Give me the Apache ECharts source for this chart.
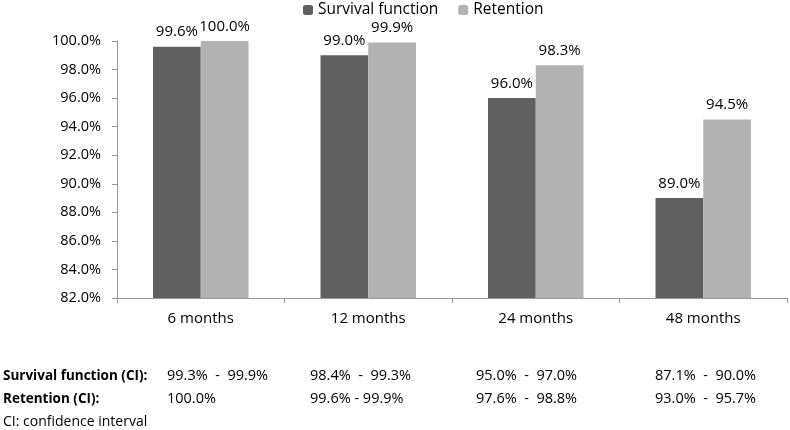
<!DOCTYPE html>
<html><head><meta charset="utf-8">
<script src="https://cdn.jsdelivr.net/npm/echarts@6/dist/echarts.min.js"></script>
<style>html,body{margin:0;padding:0;background:#fff}#c{width:790px;height:430px}</style>
</head><body><div id="c"></div>
<script>
var categories = ['6 months', '12 months', '24 months', '48 months'];
var survival = [99.6, 99.0, 96.0, 89.0];
var retention = [100.0, 99.9, 98.3, 94.5];
var survivalCI = ['99.3%  -  99.9%', '98.4%  -  99.3%', '95.0%  -  97.0%', '87.1%  -  90.0%'];
var retentionCI = ['100.0%', '99.6% - 99.9%', '97.6%  -  98.8%', '93.0%  -  95.7%'];
var rowLabels = ['Survival function (CI):', 'Retention (CI):'];
var footnote = 'CI: confidence interval';

var FONT = '"Open Sans", sans-serif';
var ciX = [167, 310, 476, 655];
var graphics = [];
graphics.push({type:'text', left:3, top:369, style:{text:rowLabels[0], font:'bold 13.5px ' + FONT, fill:'#000'}});
graphics.push({type:'text', left:3, top:392, style:{text:rowLabels[1], font:'bold 13.5px ' + FONT, fill:'#000'}});
graphics.push({type:'text', left:3, top:415, style:{text:footnote, font:'14px ' + FONT, fill:'#000'}});
for (var i = 0; i < categories.length; i++) {
  graphics.push({type:'text', left:ciX[i], top:368, style:{text:survivalCI[i], font:'14.5px ' + FONT, fill:'#000'}});
  graphics.push({type:'text', left:ciX[i], top:391, style:{text:retentionCI[i], font:'14.5px ' + FONT, fill:'#000'}});
}

var chart = echarts.init(document.getElementById('c'));
chart.setOption({
  animation: false,
  textStyle: {fontFamily: FONT},
  legend: {
    top: -3, left: 298, itemWidth: 10, itemHeight: 10, itemGap: 20,
    textStyle: {fontSize: 15.5, color: '#000', fontFamily: FONT},
    data: ['Survival function', 'Retention']
  },
  grid: {left: 117, right: 3, top: 41, bottom: 132, containLabel: false},
  xAxis: {
    type: 'category', data: categories,
    axisLine: {lineStyle: {color: '#999'}},
    axisTick: {show: true, alignWithLabel: false, length: 5, lineStyle: {color: '#999'}},
    axisLabel: {fontSize: 15, color: '#000', margin: 13, fontFamily: FONT}
  },
  yAxis: {
    type: 'value', min: 82, max: 100, interval: 2,
    splitLine: {show: false},
    axisLine: {show: true, lineStyle: {color: '#999'}},
    axisTick: {show: true, length: 5, lineStyle: {color: '#999'}},
    axisLabel: {fontSize: 14.5, color: '#000', margin: 16, fontFamily: FONT,
      formatter: function (v) { return v.toFixed(1) + '%'; }}
  },
  series: [
    {name: 'Survival function', type: 'bar', data: survival, barGap: '0%', barCategoryGap: '43%',
     itemStyle: {color: '#606060'},
     label: {show: true, position: 'top', distance: 7, fontSize: 15, color: '#000', fontFamily: FONT,
       formatter: function (p) { return p.value.toFixed(1) + '%'; }}},
    {name: 'Retention', type: 'bar', data: retention, barGap: '0%', barCategoryGap: '43%',
     itemStyle: {color: '#b2b2b2'},
     label: {show: true, position: 'top', distance: 7, fontSize: 15, color: '#000', fontFamily: FONT,
       formatter: function (p) { return p.value.toFixed(1) + '%'; }}}
  ],
  graphic: graphics
});
</script></body></html>
